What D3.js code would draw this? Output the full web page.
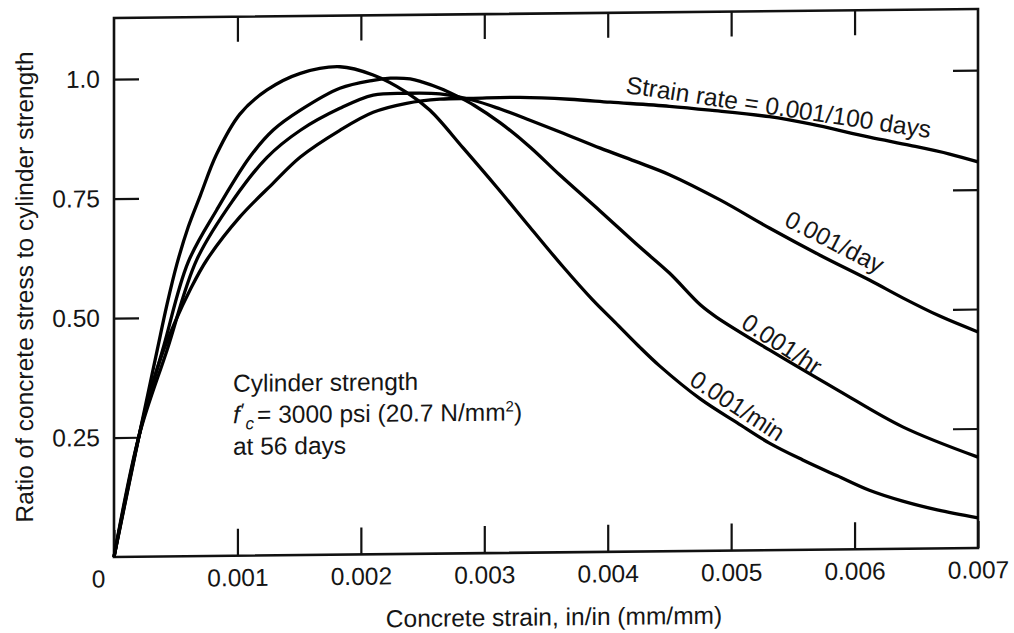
<!DOCTYPE html>
<html>
<head>
<meta charset="utf-8">
<script src="https://cdn.jsdelivr.net/npm/d3@7"></script>
<style>
  body { margin: 0; background: #fff; }
  svg { display: block; }
  text { font-family: "Liberation Sans", Arial, Helvetica, sans-serif; font-size: 24.5px; fill: #151515; }
</style>
</head>
<body>
<div class="chart"></div>
<script>
// stress/strength ratio vs strain, one array per loading rate
var rateMin = [
  [0, 0], [0.000203, 0.253], [0.00035, 0.432], [0.00043, 0.528], [0.00051, 0.612],
  [0.0006, 0.688], [0.0007, 0.755], [0.00083, 0.840], [0.00102, 0.924], [0.00124, 0.974],
  [0.00151, 1.008], [0.00183, 1.021], [0.0021, 1.003], [0.00237, 0.966], [0.00256, 0.928],
  [0.00283, 0.848], [0.0031, 0.766], [0.00337, 0.681], [0.00364, 0.597], [0.00388, 0.527],
  [0.00406, 0.480], [0.00425, 0.430], [0.00442, 0.388], [0.00475, 0.318], [0.00505, 0.267],
  [0.00531, 0.224], [0.00558, 0.188], [0.00586, 0.154], [0.00612, 0.123], [0.00639, 0.0995],
  [0.00667, 0.0804], [0.007, 0.0628]
];
var rateHr = [
  [0, 0], [0.000203, 0.253], [0.000405, 0.442], [0.0006, 0.615], [0.000832, 0.724],
  [0.0011, 0.834], [0.00129, 0.890], [0.00151, 0.931], [0.00183, 0.976], [0.0021, 0.992],
  [0.00224, 0.996], [0.0024, 0.994], [0.0025, 0.987], [0.00264, 0.974], [0.00278, 0.957],
  [0.00292, 0.937], [0.00313, 0.900], [0.00337, 0.849], [0.00361, 0.790], [0.00394, 0.713],
  [0.00426, 0.637], [0.0045, 0.582], [0.00475, 0.515], [0.00488, 0.489], [0.00531, 0.419],
  [0.00586, 0.334], [0.00639, 0.255], [0.007, 0.190]
];
var rateDay = [
  [0, 0], [0.000203, 0.253], [0.00043, 0.432], [0.00067, 0.620], [0.000964, 0.744],
  [0.00124, 0.833], [0.00151, 0.889], [0.00183, 0.934], [0.0021, 0.961], [0.00237, 0.964],
  [0.00264, 0.962], [0.00291, 0.948], [0.00313, 0.929], [0.00337, 0.905], [0.00364, 0.877],
  [0.00394, 0.845], [0.00422, 0.817], [0.0045, 0.788], [0.00491, 0.734], [0.00531, 0.674],
  [0.00572, 0.616], [0.00612, 0.563], [0.00639, 0.525], [0.00669, 0.486], [0.007, 0.452]
];
var rate100Days = [
  [0, 0], [0.000203, 0.253], [0.000275, 0.328], [0.000373, 0.411], [0.000494, 0.490],
  [0.000616, 0.557], [0.00075, 0.619], [0.00102, 0.709], [0.00129, 0.779], [0.00151, 0.833],
  [0.00183, 0.888], [0.0021, 0.925], [0.00237, 0.943], [0.00264, 0.951], [0.00291, 0.952],
  [0.00329, 0.953], [0.00369, 0.948], [0.00402, 0.941], [0.0045, 0.931], [0.00483, 0.922],
  [0.00531, 0.907], [0.00564, 0.891], [0.00612, 0.862], [0.00645, 0.844], [0.00677, 0.825],
  [0.007, 0.808]
];

var xTicks = [0, 0.001, 0.002, 0.003, 0.004, 0.005, 0.006, 0.007];
var xTickLabels = ["0", "0.001", "0.002", "0.003", "0.004", "0.005", "0.006", "0.007"];
var yTicks = [0.25, 0.5, 0.75, 1.0];
var yTickLabels = ["0.25", "0.50", "0.75", "1.0"];
var curveNames = ["0.001/min", "0.001/hr", "0.001/day", "Strain rate = 0.001/100 days"];

var w = 1014, h = 633;
var x = d3.scaleLinear().domain([0, 0.007]).range([114, 978]);
var y = d3.scaleLinear().domain([0, 1.128]).range([557, 18]);

var svg = d3.select(".chart").append("svg")
    .attr("width", w)
    .attr("height", h);
svg.append("rect").attr("width", w).attr("height", h).attr("fill", "#fff");

// the scanned figure leans a little, so skew the whole drawing to follow it
var g = svg.append("g")
    .attr("transform", "translate(113,0) skewY(-0.6) translate(-113,0)");

// frame
g.append("rect")
    .attr("x", x(0)).attr("y", y(1.128))
    .attr("width", x(0.007) - x(0)).attr("height", y(0) - y(1.128))
    .attr("fill", "none").attr("stroke", "#111").attr("stroke-width", 2.6);

function noDomain(sel) {
  sel.select(".domain").remove();
  sel.selectAll(".tick line").attr("stroke", "#111").attr("stroke-width", 2.2);
}

var bottom = g.append("g")
    .attr("transform", "translate(0," + y(0) + ")")
    .call(d3.axisBottom(x).tickValues(xTicks).tickSize(-27).tickPadding(13)
      .tickFormat(function(d, i) { return xTickLabels[i]; }))
    .call(noDomain);
bottom.selectAll(".tick text").filter(function(d) { return d === 0; }).attr("x", -16);

g.append("g")
    .attr("transform", "translate(0," + y(1.128) + ")")
    .call(d3.axisTop(x).tickValues(xTicks.slice(1, -1)).tickSize(-25).tickFormat(""))
    .call(noDomain);

g.append("g")
    .attr("transform", "translate(" + x(0) + ",0)")
    .call(d3.axisLeft(y).tickValues(yTicks).tickSize(-25).tickPadding(14)
      .tickFormat(function(d, i) { return yTickLabels[i]; }))
    .call(noDomain);

g.append("g")
    .attr("transform", "translate(" + x(0.007) + ",0)")
    .call(d3.axisRight(y).tickValues(yTicks).tickSize(-25).tickFormat(""))
    .call(noDomain);

g.selectAll(".tick text").attr("font-size", null).attr("font-family", null);

// curves
var line = d3.line()
    .x(function(d) { return x(d[0]); })
    .y(function(d) { return y(d[1]); })
    .curve(d3.curveCatmullRom.alpha(0.5));

g.selectAll("path.curve")
    .data([rateMin, rateHr, rateDay, rate100Days])
    .enter()
    .append("path")
    .attr("class", "curve")
    .attr("d", line)
    .attr("fill", "none")
    .attr("stroke", "#000")
    .attr("stroke-width", 3.3)
    .attr("stroke-linejoin", "round");

// curve labels, placed along each line
function curveLabel(txt, sx, sr, angle) {
  g.append("text")
      .attr("transform", "translate(" + x(sx) + "," + y(sr) + ") rotate(" + angle + ")")
      .text(txt);
}
curveLabel(curveNames[0], 0.00465, 0.350, 33.5);
curveLabel(curveNames[1], 0.00507, 0.468, 33.5);
curveLabel(curveNames[2], 0.00542, 0.680, 27.6);
curveLabel(curveNames[3], 0.00414, 0.960, 9);

// note block
var note = g.append("text").attr("x", 233).attr("y", y(0.343));
note.append("tspan").text("Cylinder strength");
note.append("tspan").attr("x", 233).attr("dy", 31.5).attr("font-style", "italic").text("f");
note.append("tspan").attr("font-size", "20px").attr("dx", 1).attr("dy", -6).text("\u2032");
note.append("tspan").attr("font-style", "italic").attr("font-size", "17px").attr("dx", 1).attr("dy", 12).text("c");
note.append("tspan").attr("dx", 3).attr("dy", -6).text("= 3000 psi (20.7 N/mm");
note.append("tspan").attr("font-size", "15px").attr("dy", -9).text("2");
note.append("tspan").attr("dy", 9).text(")");
note.append("tspan").attr("x", 233).attr("dy", 31.5).text("at 56 days");

// axis titles
g.append("text")
    .attr("x", 554).attr("y", 630)
    .attr("text-anchor", "middle")
    .text("Concrete strain, in/in (mm/mm)");

g.append("text")
    .attr("transform", "translate(33,286) rotate(-90)")
    .attr("text-anchor", "middle")
    .text("Ratio of concrete stress to cylinder strength");
</script>
</body>
</html>
